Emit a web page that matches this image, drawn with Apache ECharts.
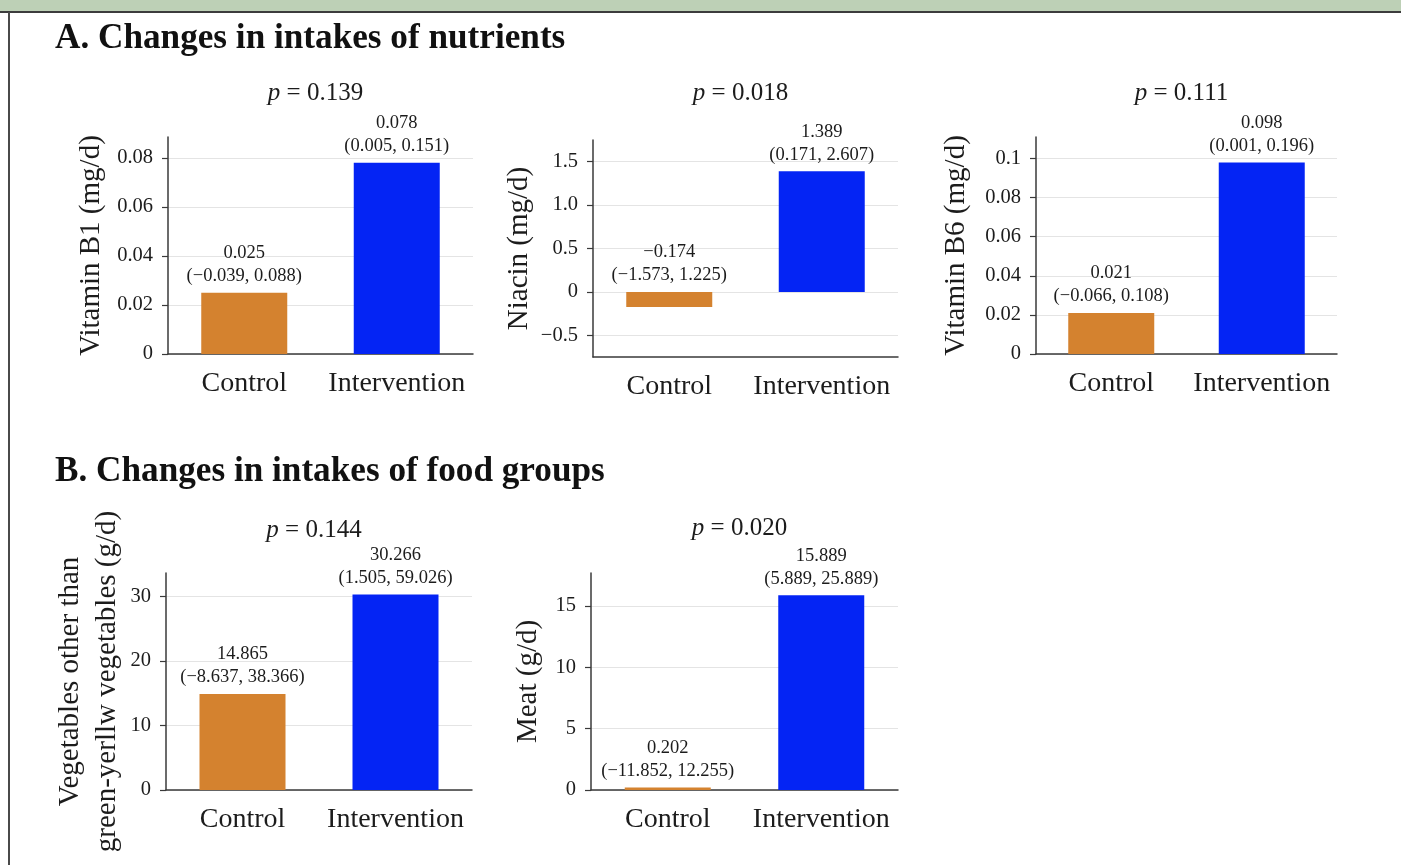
<!DOCTYPE html>
<html>
<head>
<meta charset="utf-8">
<script src="https://cdn.jsdelivr.net/npm/echarts@6/dist/echarts.min.js"></script>
<style>
  html, body { margin: 0; padding: 0; background: #ffffff; }
  #chart { width: 1401px; height: 865px; }
</style>
</head>
<body>
<div id="chart"></div>
<script>
// Groups on every x axis
const groups = ['Control', 'Intervention'];

// A. Nutrients: mean change with 95% CI
const b1Values = [0.025, 0.078];
const b1Low = [-0.039, 0.005];
const b1High = [0.088, 0.151];
const b1Ticks = [0, 0.02, 0.04, 0.06, 0.08];
const b1TickLabels = ['0', '0.02', '0.04', '0.06', '0.08'];

const niacinValues = [-0.174, 1.389];
const niacinLow = [-1.573, 0.171];
const niacinHigh = [1.225, 2.607];
const niacinTicks = [-0.5, 0, 0.5, 1.0, 1.5];
const niacinTickLabels = ['\u22120.5', '0', '0.5', '1.0', '1.5'];

const b6Values = [0.021, 0.098];
const b6Low = [-0.066, 0.001];
const b6High = [0.108, 0.196];
const b6Ticks = [0, 0.02, 0.04, 0.06, 0.08, 0.1];
const b6TickLabels = ['0', '0.02', '0.04', '0.06', '0.08', '0.1'];

// B. Food groups: mean change with 95% CI
const vegValues = [14.865, 30.266];
const vegLow = [-8.637, 1.505];
const vegHigh = [38.366, 59.026];
const vegTicks = [0, 10, 20, 30];
const vegTickLabels = ['0', '10', '20', '30'];

const meatValues = [0.202, 15.889];
const meatLow = [-11.852, 5.889];
const meatHigh = [12.255, 25.889];
const meatTicks = [0, 5, 10, 15];
const meatTickLabels = ['0', '5', '10', '15'];

// p values between groups
const pValues = ['0.139', '0.018', '0.111', '0.144', '0.020'];

const SERIF = '"Liberation Serif", "DejaVu Serif", serif';
const INK = '#1c1c1c';
const barColors = ['#d4822f', '#0424f4'];

const panels = [
  { values: b1Values, low: b1Low, high: b1High, ticks: b1Ticks, tickLabels: b1TickLabels,
    name: 'Vitamin B1 (mg/d)', p: pValues[0], min: 0, max: 0.0885, onZero: true,
    grid: { left: 168, top: 137, width: 305, height: 217 }, nameGap: 59, pY: 81 },
  { values: niacinValues, low: niacinLow, high: niacinHigh, ticks: niacinTicks, tickLabels: niacinTickLabels,
    name: 'Niacin (mg/d)', p: pValues[1], min: -0.75, max: 1.75, onZero: false,
    grid: { left: 593, top: 140, width: 305, height: 217 }, nameGap: 45, pY: 81 },
  { values: b6Values, low: b6Low, high: b6High, ticks: b6Ticks, tickLabels: b6TickLabels,
    name: 'Vitamin B6 (mg/d)', p: pValues[2], min: 0, max: 0.111, onZero: true,
    grid: { left: 1036, top: 137, width: 301, height: 217 }, nameGap: 62, pY: 81 },
  { values: vegValues, low: vegLow, high: vegHigh, ticks: vegTicks, tickLabels: vegTickLabels,
    name: 'Vegetables other than\ngreen-yerllw vegetables (g/d)', p: pValues[3], min: 0, max: 33.6, onZero: true,
    grid: { left: 166, top: 573, width: 306, height: 217 }, nameGap: 40, nameLineHeight: 37, pY: 518 },
  { values: meatValues, low: meatLow, high: meatHigh, ticks: meatTicks, tickLabels: meatTickLabels,
    name: 'Meat (g/d)', p: pValues[4], min: 0, max: 17.7, onZero: true,
    grid: { left: 591, top: 573, width: 307, height: 217 }, nameGap: 45, pY: 516 }
];

const fmt = v => v.toFixed(3).replace('-', '\u2212');

const grids = [], xAxes = [], yAxes = [], series = [];
const titles = [
  { text: 'A. Changes in intakes of nutrients', left: 55, top: 21, padding: 0,
    textStyle: { fontFamily: SERIF, fontWeight: 'bold', fontSize: 35.2, color: '#111' } },
  { text: 'B. Changes in intakes of food groups', left: 55, top: 454, padding: 0,
    textStyle: { fontFamily: SERIF, fontWeight: 'bold', fontSize: 35.2, color: '#111' } }
];

panels.forEach((pn, i) => {
  grids.push(Object.assign({ containLabel: false }, pn.grid));

  titles.push({
    text: '{i|p} = ' + pn.p,
    left: pn.grid.left + pn.grid.width / 2 - 5,
    top: pn.pY,
    padding: 0,
    textAlign: 'center',
    textStyle: {
      fontFamily: SERIF, fontSize: 25, fontWeight: 'normal', color: INK,
      rich: { i: { fontFamily: SERIF, fontSize: 25, fontStyle: 'italic', color: INK } }
    }
  });

  xAxes.push({
    type: 'category', gridIndex: i, data: groups,
    axisLine: { onZero: pn.onZero, lineStyle: { color: '#3a3a3a', width: 1.5 } },
    axisTick: { show: false },
    axisLabel: { fontFamily: SERIF, fontSize: 28, color: INK, margin: 16, interval: 0, hideOverlap: false },
    splitLine: { show: false }
  });

  yAxes.push({
    type: 'value', gridIndex: i, min: pn.min, max: pn.max,
    name: pn.name, nameLocation: 'middle', nameGap: pn.nameGap,
    nameTextStyle: { fontFamily: SERIF, fontSize: 29, color: INK, lineHeight: pn.nameLineHeight || 35 },
    axisLine: { show: true, lineStyle: { color: '#3a3a3a', width: 1.5 } },
    axisTick: { show: true, length: 6, customValues: pn.ticks, lineStyle: { color: '#3a3a3a', width: 1.2 } },
    axisLabel: {
      fontFamily: SERIF, fontSize: 20.5, color: INK, margin: 15,
      customValues: pn.ticks,
      formatter: v => {
        const k = pn.ticks.findIndex(t => Math.abs(t - v) < 1e-9);
        return k >= 0 ? pn.tickLabels[k] : '';
      }
    },
    splitLine: { show: true, lineStyle: { color: '#e4e4e4', width: 1 } }
  });

  series.push({
    type: 'bar', xAxisIndex: i, yAxisIndex: i, barWidth: 86,
    data: pn.values.map((v, k) => ({ value: v, itemStyle: { color: barColors[k] } })),
    label: {
      show: true, position: 'top', distance: 5,
      fontFamily: SERIF, fontSize: 18.5, lineHeight: 23, color: INK,
      formatter: p => fmt(pn.values[p.dataIndex]) + '\n(' + fmt(pn.low[p.dataIndex]) + ', ' + fmt(pn.high[p.dataIndex]) + ')'
    },
    emphasis: { disabled: true },
    animation: false
  });
});

const chart = echarts.init(document.getElementById('chart'));
chart.setOption({
  backgroundColor: '#ffffff',
  animation: false,
  title: titles,
  grid: grids,
  xAxis: xAxes,
  yAxis: yAxes,
  series: series,
  graphic: [
    { type: 'rect', shape: { x: 0, y: 0, width: 1401, height: 12 }, style: { fill: '#bdd0b6' }, silent: true },
    { type: 'rect', shape: { x: 0, y: 11, width: 1401, height: 2 }, style: { fill: '#3c3c3c' }, silent: true },
    { type: 'rect', shape: { x: 8, y: 12, width: 2, height: 853 }, style: { fill: '#4a4a4a' }, silent: true }
  ]
});
</script>
</body>
</html>
